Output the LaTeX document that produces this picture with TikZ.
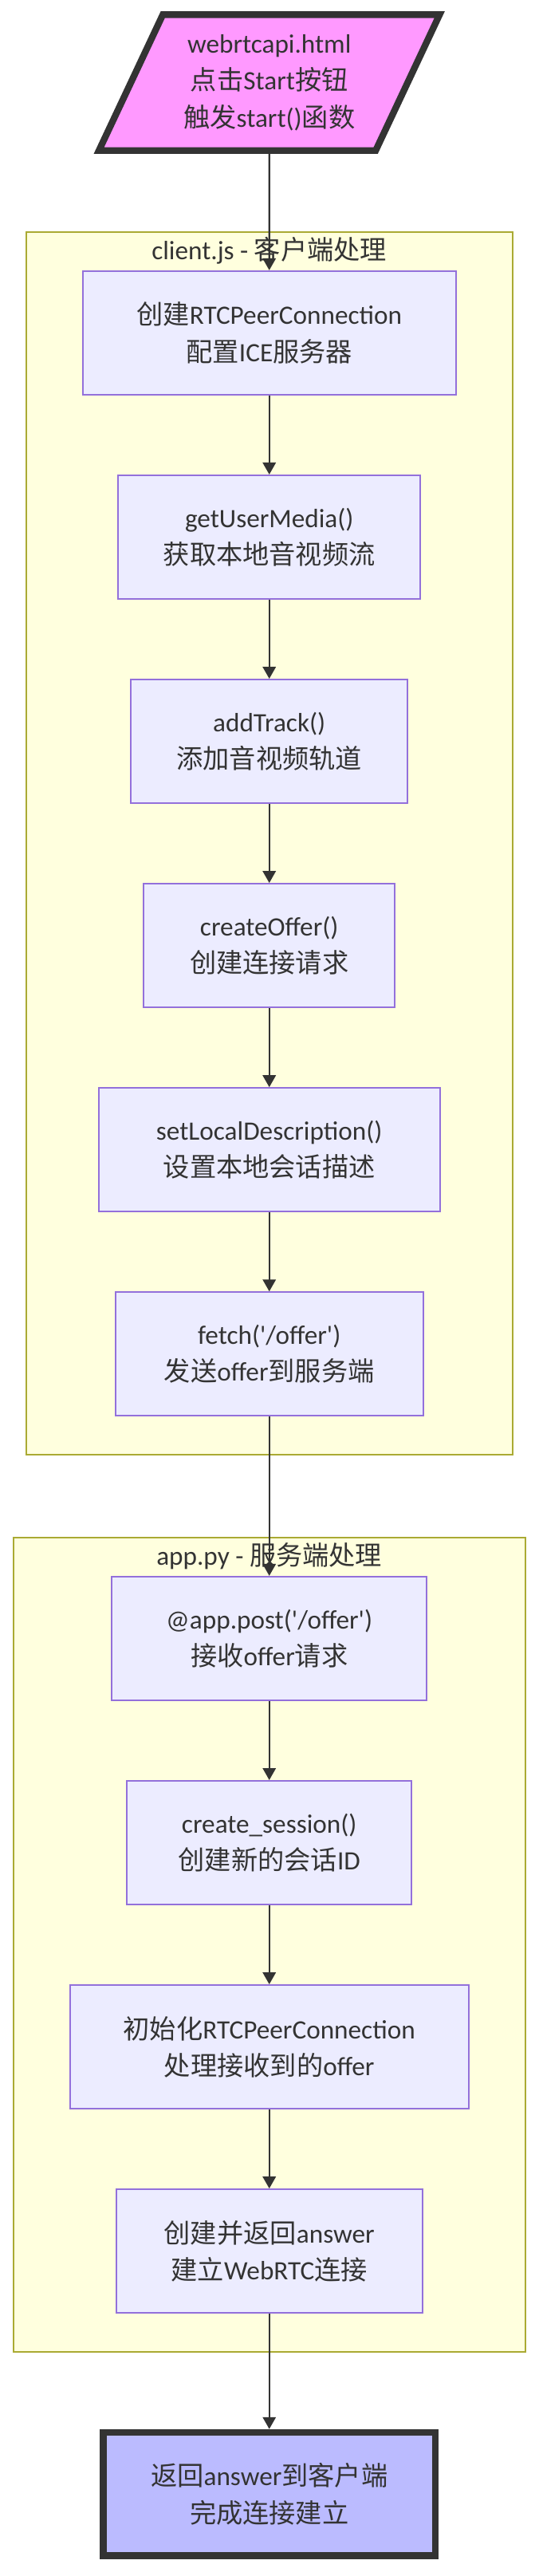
\documentclass[tikz,border=0pt]{standalone}
\usepackage{fontspec}
\setmainfont{Carlito}
\newfontfamily\zh{Noto Sans CJK SC}
\usetikzlibrary{positioning}
\usetikzlibrary{shapes.geometric}
\usetikzlibrary{fit}
\usetikzlibrary{backgrounds}
\usetikzlibrary{arrows.meta}

\definecolor{stepfill}{HTML}{ECECFF}
\definecolor{stepline}{HTML}{9370DB}
\definecolor{groupfill}{HTML}{FFFFDE}
\definecolor{groupline}{HTML}{AAAA33}
\definecolor{darkline}{HTML}{333333}
\definecolor{startfill}{HTML}{FF99FF}
\definecolor{endfill}{HTML}{BBBBFF}

\tikzset{
    txt/.style={font=\fontsize{16pt}{22.3pt}\selectfont, text=darkline, align=center},
    stepbox/.style={txt, draw=stepline, fill=stepfill, line width=1pt, rectangle, minimum height=74.6pt, inner xsep=2pt},
    startbox/.style={txt, draw=darkline, fill=startfill, line width=4pt, trapezium, trapezium stretches=true,
        trapezium left angle=61.8, trapezium right angle=118.2, minimum width=206pt, minimum height=82pt, inner sep=0pt},
    endbox/.style={txt, draw=darkline, fill=endfill, line width=4pt, rectangle, minimum width=200.6pt, minimum height=74.5pt},
    group/.style={draw=groupline, fill=groupfill, line width=1pt, inner xsep=33.7pt, inner ysep=23pt},
    flow/.style={draw=darkline, line width=1pt, -{Triangle[length=7.2pt, width=7.9pt]}},
}

\begin{document}
\begin{tikzpicture}[node distance=47.7pt]
        \useasboundingbox (0,0) rectangle (325pt,-1555.2pt);

        \node[startbox] (start) at (162.6pt, -49.85pt) {webrtcapi.html\\{\zh 点击}Start{\zh 按钮}\\{\zh 触发}start(){\zh 函数}};

        % client.js
        \node[stepbox, minimum width=225.3pt] (pc) [below=70.3pt of start] {{\zh 创建}RTCPeerConnection\\{\zh 配置}ICE{\zh 服务器}};
        \node[stepbox, minimum width=182.4pt] (media) [below=of pc] {getUserMedia()\\{\zh 获取本地音视频流}};
        \node[stepbox, minimum width=167pt] (track) [below=of media] {addTrack()\\{\zh 添加音视频轨道}};
        \node[stepbox, minimum width=151.6pt] (offer) [below=of track] {createOffer()\\{\zh 创建连接请求}};
        \node[stepbox, minimum width=206pt] (local) [below=of offer] {setLocalDescription()\\{\zh 设置本地会话描述}};
        \node[stepbox, minimum width=185.8pt] (fetch) [below=of local] {fetch(\textquotesingle/offer\textquotesingle)\\{\zh 发送}offer{\zh 到服务端}};

        % app.py
        \node[stepbox, minimum width=190.1pt] (post) [below=96.1pt of fetch] {@app.post(\textquotesingle/offer\textquotesingle)\\{\zh 接收}offer{\zh 请求}};
        \node[stepbox, minimum width=171.8pt] (session) [below=of post] {create\_session()\\{\zh 创建新的会话}ID};
        \node[stepbox, minimum width=240.7pt] (init) [below=of session] {{\zh 初始化}RTCPeerConnection\\{\zh 处理接收到的}offer};
        \node[stepbox, minimum width=184.8pt] (answer) [below=of init] {{\zh 创建并返回}answer\\{\zh 建立}WebRTC{\zh 连接}};

        \node[endbox] (done) [below=69.6pt of answer] {{\zh 返回}answer{\zh 到客户端}\\{\zh 完成连接建立}};

        \begin{scope}[on background layer]
            \node[group, fit=(pc)(media)(track)(offer)(local)(fetch)] (client) {};
            \node[group, fit=(post)(session)(init)(answer)] (server) {};
            \node[txt] (clienttitle) at ([yshift=-11.6pt]client.north) {client.js - {\zh 客户端处理}};
            \node[txt] (servertitle) at ([yshift=-11.6pt]server.north) {app.py - {\zh 服务端处理}};
        \end{scope}

        \begin{scope}[flow]
            \draw (start) -- (pc);
            \draw (pc) -- (media);
            \draw (media) -- (track);
            \draw (track) -- (offer);
            \draw (offer) -- (local);
            \draw (local) -- (fetch);
            \draw (fetch) -- (post);
            \draw (post) -- (session);
            \draw (session) -- (init);
            \draw (init) -- (answer);
            \draw (answer) -- (done);
        \end{scope}

    \end{tikzpicture}
\end{document}
